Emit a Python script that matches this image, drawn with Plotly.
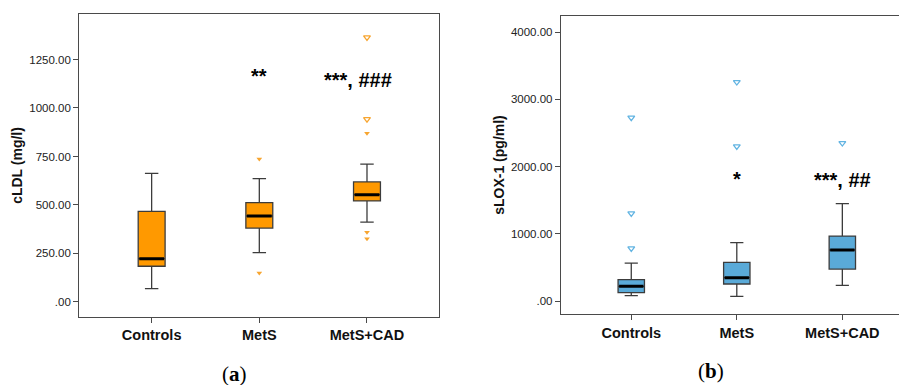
import plotly.graph_objects as go

categories = ["Controls", "MetS", "MetS+CAD"]

# Panel (a): cLDL (mg/l)
a_lower = [69, 254, 412]
a_q1 = [184, 381, 521]
a_median = [223, 443, 553]
a_q3 = [467, 512, 619]
a_upper = [663, 636, 711]
a_out_group = [1, 1, 2, 2, 2]
a_out_value = [737, 149, 870, 359, 326]
a_ext_group = [2, 2]
a_ext_value = [1364, 942]
a_ticks = [0, 250, 500, 750, 1000, 1250]
a_ticktext = [".00", "250.00", "500.00", "750.00", "1000.00", "1250.00"]

# Panel (b): sLOX-1 (pg/ml)
b_lower = [79, 70, 234]
b_q1 = [124, 253, 476]
b_median = [219, 347, 759]
b_q3 = [317, 576, 967]
b_upper = [565, 868, 1448]
b_ext_group = [0, 0, 0, 1, 1, 2]
b_ext_value = [2728, 1305, 784, 3259, 2302, 2351]
b_ticks = [0, 1000, 2000, 3000, 4000]
b_ticktext = [".00", "1000.00", "2000.00", "3000.00", "4000.00"]

BOXW = 0.25
ORANGE = "#FF9900"
ORANGE_PT = "#F7A530"
BLUE = "#5AAAD8"
BLUE_PT = "#62B4E2"
EDGE = "#3c3c3c"

xs = list(range(len(categories)))

fig = go.Figure()


def add_panel(xa, ya, lower, q1, med, q3, upper, fill):
    fig.add_trace(go.Box(
        x=xs, q1=q1, median=med, q3=q3, lowerfence=lower, upperfence=upper,
        width=BOXW, whiskerwidth=0.5, fillcolor=fill,
        line=dict(color=EDGE, width=1.3), boxpoints=False,
        xaxis=xa, yaxis=ya, showlegend=False, hoverinfo="skip"))
    mx, my = [], []
    for i, m in zip(xs, med):
        mx += [i - BOXW / 2 + 0.01, i + BOXW / 2 - 0.01, None]
        my += [m, m, None]
    fig.add_trace(go.Scatter(x=mx, y=my, mode="lines",
                             line=dict(color="black", width=3),
                             xaxis=xa, yaxis=ya, showlegend=False,
                             hoverinfo="skip"))


add_panel("x", "y", a_lower, a_q1, a_median, a_q3, a_upper, ORANGE)
fig.add_trace(go.Scatter(x=a_out_group, y=a_out_value, mode="markers",
                         marker=dict(symbol="triangle-down", size=5,
                                     color=ORANGE_PT),
                         xaxis="x", yaxis="y", showlegend=False))
fig.add_trace(go.Scatter(x=a_ext_group, y=a_ext_value, mode="markers",
                         marker=dict(symbol="triangle-down-open", size=6,
                                     color=ORANGE_PT, line=dict(width=1.3)),
                         xaxis="x", yaxis="y", showlegend=False))

add_panel("x2", "y2", b_lower, b_q1, b_median, b_q3, b_upper, BLUE)
fig.add_trace(go.Scatter(x=b_ext_group, y=b_ext_value, mode="markers",
                         marker=dict(symbol="triangle-down-open", size=6,
                                     color=BLUE_PT, line=dict(width=1.3)),
                         xaxis="x2", yaxis="y2", showlegend=False))

tickfont = dict(family="Liberation Sans, Arial", size=11.5, color="#222")
catfont = dict(family="Liberation Sans, Arial", size=14.5, color="#111")
titlefont = dict(family="Liberation Sans, Arial", size=14, color="#111")
LINE = "#4a4a4a"

common_x = dict(tickvals=xs, ticktext=[f"<b>{c}</b>" for c in categories],
                tickfont=catfont, showgrid=False, zeroline=False,
                showline=True, linecolor=LINE, linewidth=1.3, mirror=True,
                ticks="outside", ticklen=5, tickcolor=LINE, tickwidth=1.3)
common_y = dict(showgrid=False, zeroline=False, showline=True,
                linecolor=LINE, linewidth=1.3, ticks="outside", ticklen=5,
                tickcolor=LINE, tickwidth=1, tickfont=tickfont)

fig.update_layout(
    width=899, height=385,
    margin=dict(l=0, r=0, t=0, b=0, autoexpand=False),
    paper_bgcolor="white", plot_bgcolor="white",
    xaxis=dict(domain=[0.0882, 0.4887], range=[-0.672, 2.672], **common_x),
    yaxis=dict(domain=[0.1774, 0.9629], range=[-76, 1483],
               tickvals=a_ticks, ticktext=a_ticktext, mirror=True,
               title=dict(text="<b>cLDL (mg/l)</b>", font=titlefont,
                          standoff=3), **common_y),
    xaxis2=dict(domain=[0.624, 1.0], range=[-0.666, 2.537], anchor="y2",
                **common_x),
    yaxis2=dict(domain=[0.1836, 0.9592], range=[-198, 4246], anchor="x2",
                tickvals=b_ticks, ticktext=b_ticktext, mirror=False,
                title=dict(text="<b>sLOX-1 (pg/ml)</b>", font=titlefont,
                           standoff=3), **common_y),
)

sigfont = dict(family="Liberation Sans, Arial", size=20, color="black")
fig.add_annotation(x=1, y=1165, xref="x", yref="y", text="<b>**</b>",
                   showarrow=False, font=sigfont)
fig.add_annotation(x=1.92, y=1144, xref="x", yref="y",
                   text="<b>***, ###</b>", showarrow=False, font=sigfont)
fig.add_annotation(x=1, y=1820, xref="x2", yref="y2", text="<b>*</b>",
                   showarrow=False, font=sigfont)
fig.add_annotation(x=2.0, y=1800, xref="x2", yref="y2",
                   text="<b>***, ##</b>", showarrow=False, font=sigfont)

capfont = dict(family="Liberation Serif, DejaVu Serif", size=21, color="black")
fig.add_annotation(x=0.2614, y=0.028, xref="paper", yref="paper",
                   text="(<b>a</b>)", showarrow=False, font=capfont,
                   xanchor="center", yanchor="middle")
fig.add_annotation(x=0.7906, y=0.036, xref="paper", yref="paper",
                   text="(<b>b</b>)", showarrow=False, font=capfont,
                   xanchor="center", yanchor="middle")

fig.write_html("out.html",
               config={"displayModeBar": False},
               post_script="document.body.style.margin='0px';"
                           "document.body.style.overflow='hidden';")
